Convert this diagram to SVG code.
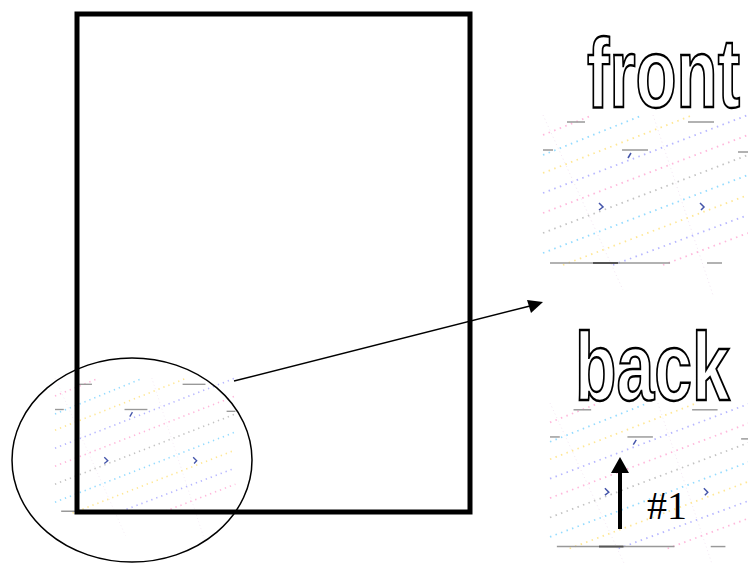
<svg xmlns="http://www.w3.org/2000/svg" width="748" height="563" viewBox="0 0 748 563">
<style>
.outline{fill:#fff;stroke:#000;stroke-width:2.4;font-family:"Liberation Sans",Arial,sans-serif;font-weight:bold}
.dot{fill:none;stroke-width:1.8;stroke-dasharray:1.5 4.5;opacity:0.7}
.grey{stroke:#999;stroke-width:1.5;fill:none}
.faint{stroke:#f3e6f3;stroke-width:1;fill:none;stroke-dasharray:1 3}
.mark{stroke:#4455aa;stroke-width:1.5;fill:none}
</style>
<defs>
<g id="tex">
<line class="faint" x1="0" y1="0" x2="80" y2="175"/>
<line class="faint" x1="110" y1="0" x2="170" y2="180"/>
<line class="dot" stroke="#f9c" x1="0" y1="20" x2="50" y2="0"/>
<line class="dot" stroke="#6cf" x1="0" y1="40" x2="100" y2="0"/>
<line class="dot" stroke="#fd6" x1="0" y1="58" x2="150" y2="0"/>
<line class="dot" stroke="#99f" x1="0" y1="78" x2="205" y2="0"/>
<line class="dot" stroke="#f9c" x1="0" y1="98" x2="205" y2="20"/>
<line class="dot" stroke="#aaa" x1="0" y1="118" x2="205" y2="40"/>
<line class="dot" stroke="#6cf" x1="0" y1="138" x2="205" y2="60"/>
<line class="dot" stroke="#fd6" x1="20" y1="150" x2="205" y2="80"/>
<line class="dot" stroke="#99f" x1="70" y1="150" x2="205" y2="100"/>
<line class="dot" stroke="#f9c" x1="120" y1="150" x2="205" y2="118"/>
<line class="grey" x1="24" y1="7" x2="42" y2="7"/>
<line class="grey" x1="145" y1="7" x2="171" y2="7"/>
<line class="grey" x1="79" y1="35" x2="105" y2="35"/>
<line class="grey" x1="0" y1="35" x2="10" y2="35"/>
<line class="grey" x1="195" y1="37" x2="205" y2="37"/>
<line class="grey" x1="7" y1="148" x2="127" y2="148"/>
<line stroke="#555" stroke-width="2" x1="50" y1="148" x2="75" y2="148"/>
<line class="grey" x1="164" y1="148" x2="179" y2="148"/>
<path class="mark" d="M56,88 l4,4 l-4,3"/>
<path class="mark" d="M157,88 l4,4 l-3,3"/>
<path class="mark" d="M88,38 l-3,5"/>
</g>
</defs>
<g id="textures">
<use href="#tex" transform="translate(543,115)"/>
<use href="#tex" transform="translate(550,403) scale(0.98,0.97)"/>
<use href="#tex" transform="translate(55,378) scale(0.88,0.9)"/>
</g>
<g id="page">
<rect x="77" y="14" width="393" height="498" fill="none" stroke="#000" stroke-width="5"/>
</g>
<g id="zoom-ellipse">
<ellipse cx="132" cy="460" rx="120" ry="102" fill="none" stroke="#000" stroke-width="1.5"/>
</g>
<g id="front-label">
<text class="outline" transform="translate(587,107) scale(0.686,1)" font-size="98">front</text>
</g>
<g id="back-label">
<text class="outline" transform="translate(575,400) scale(0.70,1)" font-size="97">back</text>
</g>
<g id="connectors">
<line x1="234" y1="381" x2="530" y2="306" stroke="#000" stroke-width="1.5"/>
<polygon points="543,302 527,300 531,313" fill="#000"/>
<line x1="620" y1="529" x2="620" y2="470" stroke="#000" stroke-width="4"/>
<polygon points="611,473 620,457 629,473" fill="#000"/>
</g>
<g id="label-1">
<text x="647" y="519" font-family="Liberation Serif,'Times New Roman',serif" font-size="40">#1</text>
</g>
</svg>
